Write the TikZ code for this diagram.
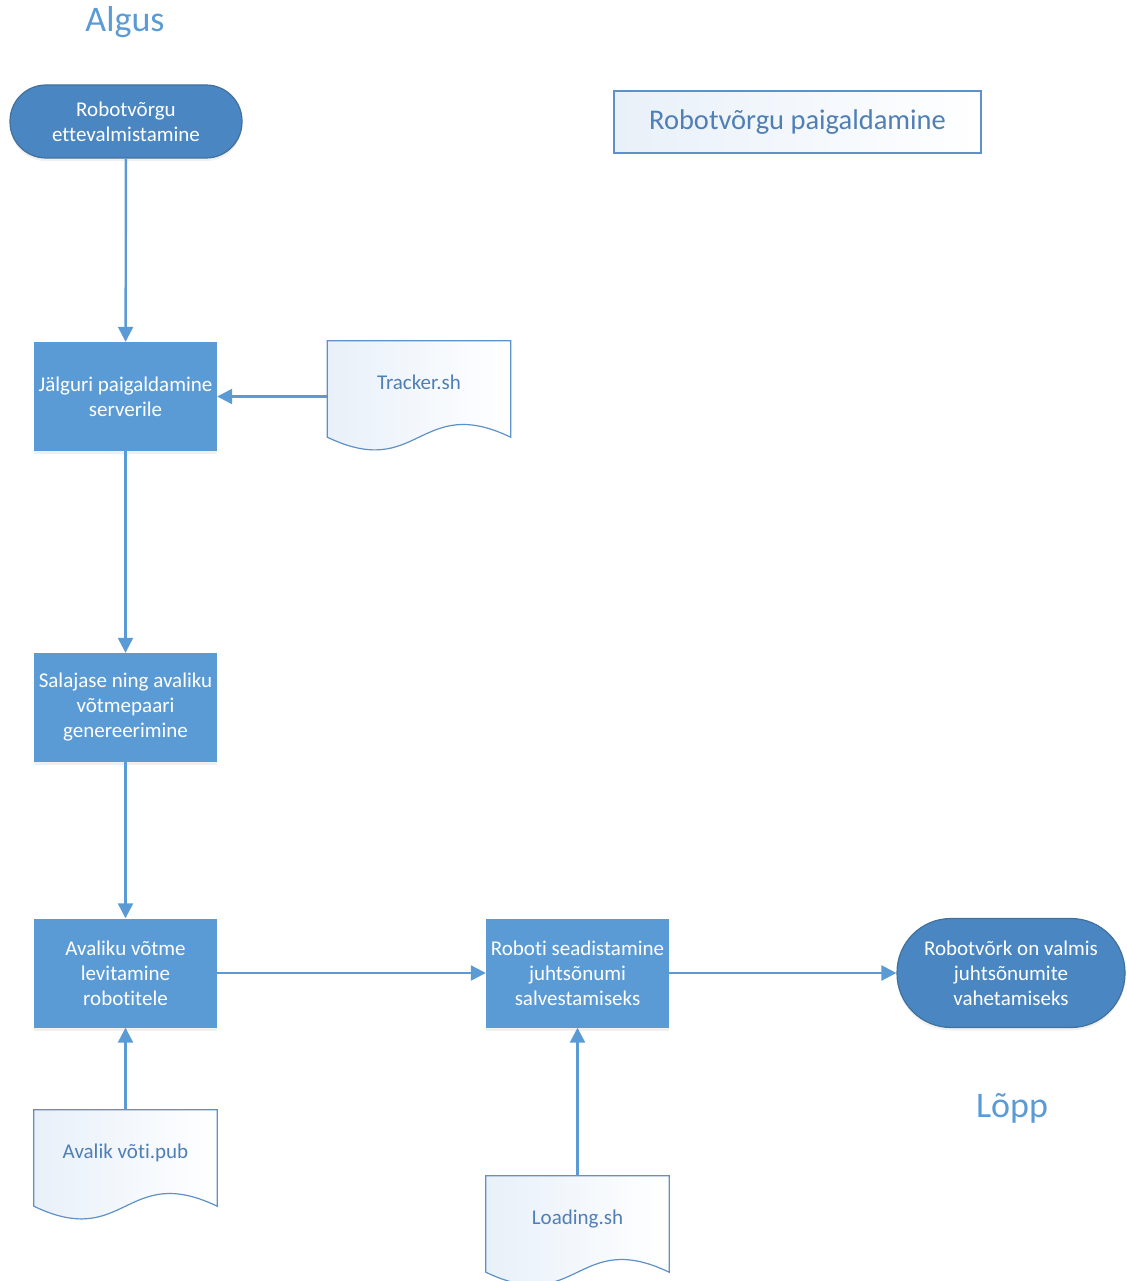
\documentclass[tikz,border=0pt]{standalone}
\usepackage{fontspec}
\setmainfont{Carlito}[Ligatures=NoCommon]
\usetikzlibrary{arrows.meta,calc,shadows}

\definecolor{procfill}{HTML}{5B9BD5}
\definecolor{termfill}{HTML}{4A86C1}
\definecolor{termline}{HTML}{41719C}
\definecolor{flowline}{HTML}{5B9BD5}
\definecolor{docline}{HTML}{5E91C8}
\definecolor{doctext}{HTML}{4F7FB5}
\definecolor{docshade}{HTML}{E8F0F9}
\definecolor{headtext}{HTML}{5B9BD5}

\tikzset{
  every node/.style={inner sep=0pt, align=center},
  procbox/.style={rectangle, fill=procfill, draw=none, minimum width=183pt,
    minimum height=109pt, text=white, font=\fontsize{21}{25}\selectfont,
    drop shadow={opacity=0.12, shadow xshift=0pt, shadow yshift=-3pt}},
  termbox/.style={rectangle, fill=termfill, draw=termline, line width=1.2pt,
    text=white, font=\fontsize{21}{25}\selectfont,
    drop shadow={opacity=0.12, shadow xshift=0pt, shadow yshift=-3pt}},
  docbox/.style={rectangle, minimum width=183pt, minimum height=96pt,
    text=doctext, font=\fontsize{21}{25}\selectfont, text depth=13pt},
  docedge/.style={draw=docline, line width=1.2pt, shading=axis, shading angle=135,
    left color=docshade, right color=white},
  titlebox/.style={rectangle, draw=docline, line width=1.2pt, left color=docshade,
    right color=white, minimum width=367pt, minimum height=62pt,
    text=doctext, font=\fontsize{28.5}{32}\selectfont},
  headline/.style={text=headtext, font=\fontsize{36}{40}\selectfont},
  flow/.style={draw=flowline, line width=2.4pt,
    -{Triangle[length=15pt,width=15pt]}},
}

% document symbol with a wavy lower edge, drawn round a named node
\newcommand\docoutline[1]{%
  \path[docedge] (#1.south west) -- (#1.north west) -- (#1.north east) -- (#1.south east)
    .. controls ($(#1.south east)!0.5!(#1.south west)+(0,-44)$)
       and ($(#1.south east)!0.5!(#1.south west)+(0,44)$) .. (#1.south west) -- cycle;}

\begin{document}
\begin{tikzpicture}[x=1pt, y=-1pt]
  \useasboundingbox (0,0) rectangle (1126,1281);

  % headings
  \node[headline] (algus) at (125,22) {Algus};
  \node[headline] (lopp) at (1012,1108) {Lõpp};
  \node[titlebox] (title) at (797.5,122) {Robotvõrgu paigaldamine};

  % terminals
  \node[termbox, minimum width=232pt, minimum height=73pt, rounded corners=36pt]
    (start) at (126,121.5) {Robotvõrgu\\ettevalmistamine};
  \node[termbox, minimum width=228pt, minimum height=109pt, rounded corners=54pt]
    (finish) at (1011,973) {Robotvõrk on valmis\\juhtsõnumite\\vahetamiseks};

  % process steps
  \node[procbox] (tracker) at (125.5,396.5) {Jälguri paigaldamine\\serverile};
  \node[procbox] (keys) at (125.5,707.5) {Salajase ning avaliku\\võtmepaari\\genereerimine};
  \node[procbox] (spread) at (125.5,973) {Avaliku võtme\\levitamine\\robotitele};
  \node[procbox] (setup) at (577.5,973) {Roboti seadistamine\\juhtsõnumi\\salvestamiseks};

  % documents
  \node[docbox] (trackersh) at (419,389) {};
  \docoutline{trackersh}
  \node[docbox] (trackersh) at (419,389) {Tracker.sh};

  \node[docbox] (pubkey) at (125.5,1158) {};
  \docoutline{pubkey}
  \node[docbox] (pubkey) at (125.5,1158) {Avalik võti.pub};

  \node[docbox] (loading) at (577.5,1224) {};
  \docoutline{loading}
  \node[docbox] (loading) at (577.5,1224) {Loading.sh};

  % connectors
  \draw[flow] (start) -- (tracker);
  \draw[flow] (trackersh.west |- tracker.east) -- (tracker.east);
  \draw[flow] (tracker) -- (keys);
  \draw[flow] (keys) -- (spread);
  \draw[flow] (spread) -- (setup);
  \draw[flow] (setup) -- (finish);
  \draw[flow] (pubkey.north) -- (spread.south);
  \draw[flow] (loading.north) -- (setup.south);
\end{tikzpicture}
\end{document}
